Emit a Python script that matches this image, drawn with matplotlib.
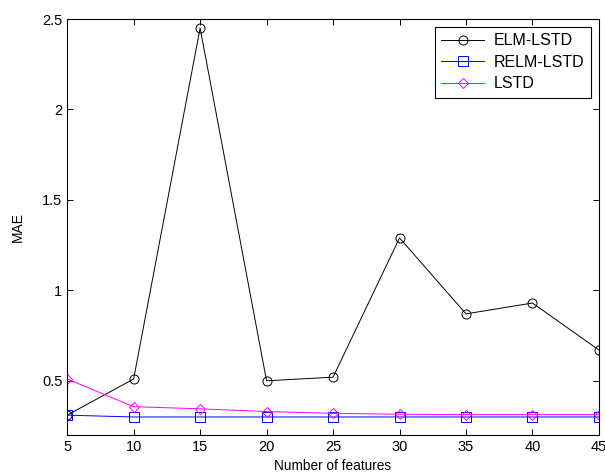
import matplotlib
matplotlib.use('Agg')

import matplotlib.pyplot as plt

plt.rcParams['font.family'] = ['Liberation Sans', 'DejaVu Sans']

features = [5, 10, 15, 20, 25, 30, 35, 40, 45]
elm_lstd = [0.31, 0.51, 2.45, 0.50, 0.52, 1.29, 0.87, 0.93, 0.67]
relm_lstd = [0.31, 0.30, 0.30, 0.30, 0.30, 0.30, 0.30, 0.30, 0.30]
lstd = [0.51, 0.357, 0.345, 0.33, 0.32, 0.315, 0.313, 0.313, 0.313]


def main():
    fig = plt.figure(figsize=(6.05, 4.76), dpi=100)
    ax = fig.add_axes([0.111, 0.086, 0.879, 0.874])

    ax.plot(features, elm_lstd, color='black', lw=0.7, marker='o',
            ms=6.5, mfc='none', mew=0.7, label='ELM-LSTD')
    ax.plot(features, relm_lstd, color='blue', lw=0.7, marker='s',
            ms=6.5, mfc='none', mew=0.7, label='RELM-LSTD')
    ax.plot(features, lstd, color='magenta', lw=0.7, marker='D',
            ms=5.5, mfc='none', mew=0.7, label='LSTD')

    ax.set_xlim(5, 45)
    ax.set_ylim(0.2, 2.5)
    ax.set_xticks(features)
    ax.set_yticks([0.5, 1, 1.5, 2, 2.5])
    ax.set_yticklabels(['0.5', '1', '1.5', '2', '2.5'])
    ax.tick_params(direction='in', top=True, right=True, length=4,
                   width=0.7, labelsize=10.5)
    for s in ax.spines.values():
        s.set_linewidth(0.8)

    ax.set_xlabel('Number of features', fontsize=9.8, labelpad=4)
    ax.set_ylabel('MAE', fontsize=10, labelpad=12)

    leg = ax.legend(loc='upper right', fontsize=11.5, fancybox=False,
                    edgecolor='black', framealpha=1, handlelength=2.7,
                    labelspacing=0.4, borderaxespad=0.5, handletextpad=0.6)
    leg.get_frame().set_linewidth(0.8)

    fig.savefig('out.png', dpi=100)
    plt.close(fig)


if __name__ == "__main__":
    main()
